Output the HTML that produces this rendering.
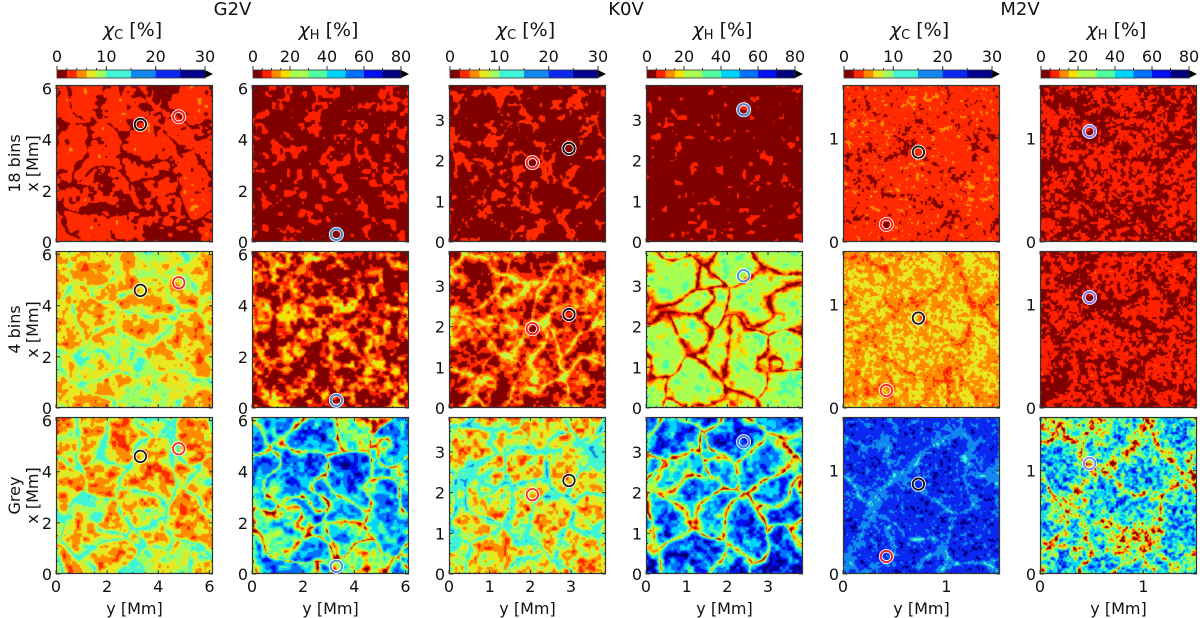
<!DOCTYPE html>
<html><head><meta charset="utf-8">
<style>
html,body{margin:0;padding:0;background:#fff;}
#wrap{position:relative;width:1200px;height:618px;overflow:hidden;font-family:"DejaVu Sans","Liberation Sans",sans-serif;}
canvas{position:absolute;}
svg{position:absolute;left:0;top:0;}
</style></head><body>
<div id="wrap">
<svg id="ov" width="1200" height="618"></svg>
</div>
<script>
// ---- data ----
const starNames = ["G2V","K0V","M2V"];
const rowLabels = ["18 bins","4 bins","Grey"];
const boxExtent = [6.14, 3.86, 1.52];          // Mm
const axisTicks = [[0,2,4,6],[0,1,2,3],[0,1]];
const minorStep = [0.5, 0.25, 0.25];
const cBounds = [0,2,4,6,8,10,15,20,25,30];
const hBounds = [0,5,10,15,20,30,40,50,60,70,80];
const cColors = ["#800000","#ff2a00","#ff8c00","#e8e820","#a0ff60","#40f5d5","#1088f0","#0a28f0","#00008c"];
const hColors = ["#800000","#ff2000","#ff8a00","#f5e000","#a8ff50","#50ffa0","#00d5ff","#0070ff","#0010f0","#000080"];
const cTickLabels = [0,10,20,30];
const hTickLabels = [0,20,40,60,80];
// per panel [row][col] : granule value, lane value, noise amplitude, lane width
const panelGranule = [[3,4.6,1,3.2,3.2,5.6],[5.5,9,1.8,27,6,6],[5,56,6,63,23,50]];
const panelLane    = [[1,2,2.5,2.5,2,2.5],[10,2,7,2,4,2.5],[12,10,14,10,16,12]];
const panelNoise   = [[2,6,2,5,2.2,6],[3.5,20,5,14,3,6],[4.5,28,6,28,7,38]];
const panelLaneW   = [[6,6,6,6,6,6],[5,6,6,6,6,6],[5,6,5,8,6,10]];
// circle markers
const markerCol = [0,0,1,2,2,3,4,4,5];
const markerY   = [3.3,4.8,3.3,2.05,2.95,2.4,0.73,0.42,0.48];
const markerX   = [4.6,4.9,0.3,1.95,2.3,3.25,0.87,0.17,1.07];
const markerClr = ["#111111","#ff2020","#3a8ee6","#ff2020","#111111","#3a8ee6","#111111","#ff2020","#8080ff"];

// ---- layout ----
const colX = [56,252,449,646,843,1040];
const rowY = [85,251,417];
const PW = 157, PH = 157;
const NS = "http://www.w3.org/2000/svg";
const ov = document.getElementById('ov');
const wrap = document.getElementById('wrap');
function mk(tag, attrs, parent){const e=document.createElementNS(NS,tag);for(const k in attrs)e.setAttribute(k,attrs[k]);(parent||ov).appendChild(e);return e;}
function txt(x,y,s,size,anchor,parent){const t=mk('text',{x:x,y:y,'font-size':size,'text-anchor':anchor||'middle',fill:'#111'},parent);t.textContent=s;return t;}

function rng(seed){let s=seed>>>0;return()=>{s=(Math.imul(s,1664525)+1013904223)>>>0;return s/4294967296;};}
function valueNoise(r,n){const N=n+2;const g=new Float32Array(N*N);for(let i=0;i<N*N;i++)g[i]=r();
  return(x,y)=>{x=Math.min(Math.max(x,0),n);y=Math.min(Math.max(y,0),n);const xi=Math.min(Math.floor(x),n),yi=Math.min(Math.floor(y),n),fx=x-xi,fy=y-yi;
  const a=g[yi*N+xi],b=g[yi*N+xi+1],c=g[(yi+1)*N+xi],d=g[(yi+1)*N+xi+1];const sx=fx*fx*(3-2*fx),sy=fy*fy*(3-2*fy);return a+(b-a)*sx+(c-a)*sy+(a-b-c+d)*sx*sy;};}
function hex(c){return [parseInt(c.substr(1,2),16),parseInt(c.substr(3,2),16),parseInt(c.substr(5,2),16)];}

for(let r=0;r<3;r++){
  for(let c=0;c<6;c++){
    const star=Math.floor(c/2), isH=c%2===1;
    const bounds=isH?hBounds:cBounds, colors=isH?hColors:cColors;
    const rgb=colors.map(hex);
    const cv=document.createElement('canvas');
    cv.width=PW;cv.height=PH;cv.style.left=colX[c]+'px';cv.style.top=rowY[r]+'px';
    
    
    wrap.insertBefore(cv,ov);
    try{
    const ctx=cv.getContext('2d');const img=ctx.createImageData(PW,PH);
    const R=rng(1000+star*7);
    const ncell=[16,14,9][star];
    const pts=[];for(let i=0;i<ncell;i++)pts.push([R()*PW,R()*PH]);
    const Rn=rng(77+c*13+r*5);
    const freq=[22,24,40][star];
    const n1=valueNoise(Rn,freq),n2=valueNoise(Rn,freq*2),n3=valueNoise(Rn,8),n4=valueNoise(Rn,8);
    const g=panelGranule[r][c],l=panelLane[r][c],a=panelNoise[r][c],lw=panelLaneW[r][c];
    for(let y=0;y<PH;y++)for(let x=0;x<PW;x++){
      const wx=x+(n3(x/PW*7,y/PH*7)-0.5)*30, wy=y+(n4(x/PW*7,y/PH*7)-0.5)*30;
      let d1=1e9,d2=1e9;
      for(const p of pts){for(let ox=-1;ox<=1;ox++)for(let oy=-1;oy<=1;oy++){const dx=wx-p[0]-ox*PW,dy=wy-p[1]-oy*PH;const d=dx*dx+dy*dy;if(d<d1){d2=d1;d1=d;}else if(d<d2)d2=d;}}
      const e=Math.sqrt(d2)-Math.sqrt(d1);
      const lane=Math.exp(-e/lw);
      const nz=0.55*n1(x/PW*freq,y/PH*freq)+0.45*n2(x/PW*freq*2,y/PH*freq*2)-0.5;
      const v=g+(l-g)*lane+a*nz*1.8;
      let idx=colors.length;
      for(let i=1;i<bounds.length;i++){if(v<bounds[i]){idx=i-1;break;}}
      const col=idx<colors.length?rgb[idx]:[0,0,0];
      const k=(y*PW+x)*4;img.data[k]=col[0];img.data[k+1]=col[1];img.data[k+2]=col[2];img.data[k+3]=255;
    }
    ctx.putImageData(img,0,0);
    }catch(err){}

    const ext=boxExtent[star];
    const sx=v=>colX[c]+v/ext*PW, sy=v=>rowY[r]+PH-v/ext*PH;
    const gAx=mk('g',{});
    
    
    mk('rect',{x:colX[c]+0.5,y:rowY[r]+0.5,width:PW-1,height:PH-1,fill:'none',stroke:'#333','stroke-width':1.2},gAx);
    for(let m=minorStep[star];m<ext;m+=minorStep[star]){
      mk('line',{x1:sx(m),x2:sx(m),y1:rowY[r]+PH,y2:rowY[r]+PH-2,stroke:'#333'},gAx);
      mk('line',{x1:sx(m),x2:sx(m),y1:rowY[r],y2:rowY[r]+2,stroke:'#333'},gAx);
      mk('line',{x1:colX[c],x2:colX[c]+2,y1:sy(m),y2:sy(m),stroke:'#333'},gAx);
      mk('line',{x1:colX[c]+PW,x2:colX[c]+PW-2,y1:sy(m),y2:sy(m),stroke:'#333'},gAx);
    }
    for(const t of axisTicks[star]){
      mk('line',{x1:sx(t),x2:sx(t),y1:rowY[r]+PH,y2:rowY[r]+PH-4,stroke:'#333'},gAx);
      mk('line',{x1:sx(t),x2:sx(t),y1:rowY[r],y2:rowY[r]+4,stroke:'#333'},gAx);
      mk('line',{x1:colX[c],x2:colX[c]+4,y1:sy(t),y2:sy(t),stroke:'#333'},gAx);
      mk('line',{x1:colX[c]+PW,x2:colX[c]+PW-4,y1:sy(t),y2:sy(t),stroke:'#333'},gAx);
      const tl=txt(colX[c]-4,sy(t)+6,String(t),16,'end',gAx);
      
      if(r===2){const xl=txt(sx(t),rowY[r]+PH+18,String(t),16,'middle',gAx);
        }
    }
    if(r===2){const xt=txt(colX[c]+PW/2,rowY[r]+PH+40,'y [Mm]',16,'middle',gAx);
      }
  }
}
// markers
for(let i=0;i<markerCol.length;i++){
  const c=markerCol[i],star=Math.floor(c/2),ext=boxExtent[star];
  for(let r=0;r<3;r++){
    const cx=colX[c]+markerY[i]/ext*PW, cy=rowY[r]+PH-markerX[i]/ext*PH;
    const g=mk('g',{});
    
    
    mk('circle',{cx:cx,cy:cy,r:7,fill:'none',stroke:'#fff','stroke-width':1},g);
    mk('circle',{cx:cx,cy:cy,r:5.8,fill:'none',stroke:markerClr[i],'stroke-width':1.6},g);
    mk('circle',{cx:cx,cy:cy,r:4.3,fill:'none',stroke:'#fff','stroke-width':0.9},g);
  }
}
// y-axis titles
for(let r=0;r<3;r++){
  const g=mk('g',{transform:'translate(20,'+(rowY[r]+PH/2)+') rotate(-90)'});
  
  
  txt(0,0,rowLabels[r],16,'middle',g);txt(0,18,'x [Mm]',16,'middle',g);
}
// colorbars
for(let c=0;c<6;c++){
  const isH=c%2===1,bounds=isH?hBounds:cBounds,colors=isH?hColors:cColors,labs=isH?hTickLabels:cTickLabels;
  const x0=colX[c]+1,w=PW-9,y0=70,h=8,max=bounds[bounds.length-1];
  const sx=v=>x0+v/max*w;
  const g=mk('g',{});
  
  
  for(let i=0;i<colors.length;i++)mk('rect',{x:sx(bounds[i]),y:y0,width:sx(bounds[i+1])-sx(bounds[i])+0.3,height:h,fill:colors[i]},g);
  mk('polygon',{points:(x0+w)+','+y0+' '+(x0+w+8)+','+(y0+h/2)+' '+(x0+w)+','+(y0+h),fill:'#000'},g);
  mk('rect',{x:x0,y:y0,width:w,height:h,fill:'none',stroke:'#333','stroke-width':0.8},g);
  for(const b of bounds)mk('line',{x1:sx(b),x2:sx(b),y1:y0,y2:y0-2,stroke:'#333'},g);
  for(const t of labs){mk('line',{x1:sx(t),x2:sx(t),y1:y0,y2:y0-4,stroke:'#333'},g);txt(sx(t),y0-8,String(t),16,'middle',g);}
  const lab=mk('text',{x:colX[c]+PW/2-2,y:y0-34,'font-size':19,'text-anchor':'middle',fill:'#111'},g);
  const t1=mk('tspan',{'font-style':'italic'},lab);t1.textContent='χ';
  const t2=mk('tspan',{'font-size':13,dy:3},lab);t2.textContent=isH?'H':'C';
  const t3=mk('tspan',{dy:-3},lab);t3.textContent=' [%]';
}
// star titles
for(let s=0;s<3;s++){
  const t=txt((colX[s*2]+colX[s*2+1]+PW)/2,15,starNames[s],18,'middle');
  
  
}
</script>
</body></html>
